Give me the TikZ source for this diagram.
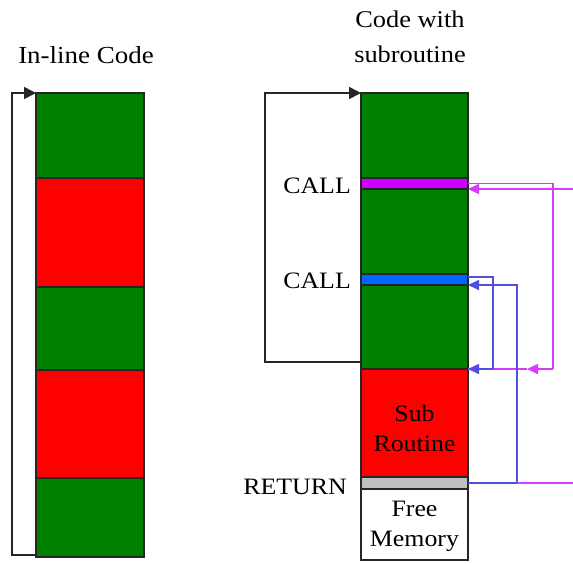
\documentclass[tikz,border=0pt]{standalone}
\usepackage{fontspec}
\setmainfont{Liberation Serif}[FakeStretch=1.1]
\usetikzlibrary{arrows.meta}
\definecolor{codegreen}{RGB}{0,128,0}
\definecolor{codered}{RGB}{255,0,0}
\definecolor{callmag}{RGB}{204,0,255}
\definecolor{callblue}{RGB}{0,102,255}
\definecolor{retgray}{RGB}{192,192,192}
\definecolor{magline}{RGB}{214,60,250}
\definecolor{blueline}{RGB}{80,80,220}
\tikzset{
  block/.style={draw=black!85, line width=1.5pt, inner sep=0pt, outer sep=0pt},
  lcol/.style={block, minimum width=108pt},
  rcol/.style={block, minimum width=107pt},
  label/.style={font=\fontsize{23.5}{30}\selectfont, inner sep=0pt},
  loopline/.style={draw=black!85, line width=1.6pt},
  magpath/.style={draw=magline, line width=1.6pt},
  bluepath/.style={draw=blueline, line width=1.6pt},
  bigtip/.style={-{Triangle[length=12pt,width=12pt]}},
  smalltip/.style={-{Triangle[length=11pt,width=10pt]}}
}
\begin{document}
\begin{tikzpicture}[x=1pt,y=-1pt]
\useasboundingbox (0,0) rectangle (573,563);

% titles
\node[label, font=\fontsize{24.5}{30}\selectfont] (t1) at (86,55) {In-line Code};
\node[label, align=center, font=\fontsize{24}{35}\selectfont] (t2) at (410,37) {Code with\\subroutine};

% in-line code column
\node[lcol, fill=codegreen, minimum height=85pt]  (L1) at (90,135.5) {};
\node[lcol, fill=codered,   minimum height=109pt] (L2) at (90,232.5) {};
\node[lcol, fill=codegreen, minimum height=83pt]  (L3) at (90,328.5) {};
\node[lcol, fill=codered,   minimum height=108pt] (L4) at (90,424) {};
\node[lcol, fill=codegreen, minimum height=79pt]  (L5) at (90,517.5) {};

% code with subroutine column
\node[rcol, fill=codegreen, minimum height=85pt]  (R1)    at (414.5,135.5) {};
\node[rcol, fill=callmag,   minimum height=11pt]  (Rc1)   at (414.5,183.5) {};
\node[rcol, fill=codegreen, minimum height=85pt]  (R2)    at (414.5,231.5) {};
\node[rcol, fill=callblue,  minimum height=11pt]  (Rc2)   at (414.5,279.5) {};
\node[rcol, fill=codegreen, minimum height=84pt]  (R3)    at (414.5,327) {};
\node[rcol, fill=codered,   minimum height=108pt] (Rsub)  at (414.5,423) {};
\node[rcol, fill=retgray,   minimum height=12pt]  (Rret)  at (414.5,483) {};
\node[rcol, fill=white,     minimum height=71pt]  (Rfree) at (414.5,524.5) {};

% texts in and beside the column
\node[label, align=center] (subtxt)  at (414.5,428) {Sub\\Routine};
\node[label, align=center] (freetxt) at (414.5,526) {Free\\Memory};
\node[label, anchor=east] (call1) at (351,186) {CALL};
\node[label, anchor=east] (call2) at (351,281) {CALL};
\node[label, anchor=east] (ret)   at (347,487) {RETURN};

% program flow loops
\coordinate (lt) at (12,93);
\draw[loopline, bigtip] ([yshift=2pt]L5.south west) -| (lt) -- (L1.north west);
\coordinate (rt) at (265,93);
\draw[loopline, bigtip] ([yshift=7pt]R3.south west) -| (rt) -- (R1.north west);

% first call (magenta)
\coordinate (m1) at (553,369);
\coordinate (ma) at (527,369);
\coordinate (me1) at (573,189);
\coordinate (me2) at (573,483);
\draw[magpath] (Rc1.east) -| (m1);
\draw[magpath, smalltip] (m1) -- (ma);
\draw[magpath] (ma) -- (Rsub.north east);
\draw[magpath, smalltip] (me1) -- (Rc1.south east);

% second call (blue)
\coordinate (b1) at (493,369);
\coordinate (b2) at (517,483);
\coordinate (b3) at (517,285);
\draw[bluepath] ([yshift=2.5pt]Rc2.east) -| (b1);
\draw[bluepath, smalltip] (b1) -- (Rsub.north east);
\draw[bluepath] (Rret.east) -- (b2);
\draw[bluepath, smalltip] (b2) -- (b3) -- (Rc2.south east);
\draw[magpath] (b2) -- (me2);
\end{tikzpicture}
\end{document}
